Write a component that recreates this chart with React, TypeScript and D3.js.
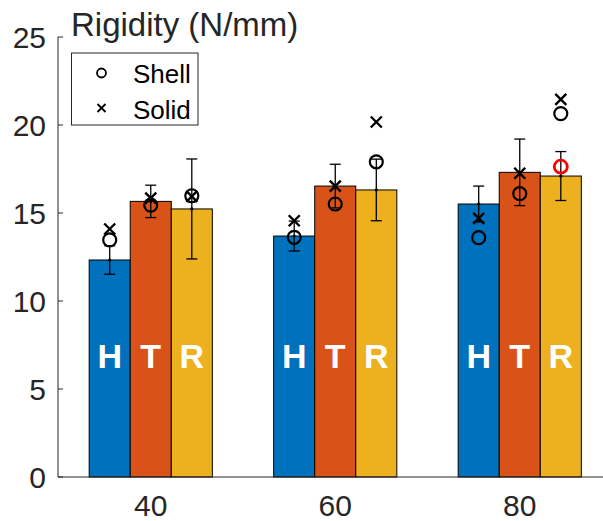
import React from 'react';
import * as d3 from 'd3';

// speeds (x categories)
const categories = [40, 60, 80];
const seriesNames = ['H', 'T', 'R'];
const seriesColors = ['#0072BD', '#D95319', '#EDB120'];

// bar means per series
const meanH = [12.33, 13.69, 15.51];
const meanT = [15.66, 16.53, 17.31];
const meanR = [15.23, 16.31, 17.1];

// error half-widths
const errH = [0.81, 0.85, 1.02];
const errT = [0.92, 1.24, 1.89];
const errR = [2.84, 1.75, 1.39];

// model predictions
const shellH = [13.47, 13.62, 13.6];
const shellT = [15.45, 15.51, 16.1];
const shellR = [15.98, 17.91, 20.65];
const solidH = [14.09, 14.56, 14.7];
const solidT = [15.84, 16.53, 17.26];
const solidR = [15.95, 20.17, 21.46];

// highlighted shell point (R at 80)
const highlightCat = [80];
const highlightVal = [17.63];

const yTicks = [0, 5, 10, 15, 20, 25];

const W = 603;
const H = 521;
const font = '"Liberation Sans", Arial, Helvetica, sans-serif';
const axisColor = '#262626';

const App = () => {
  const x = d3.scaleLinear().domain([30, 90]).range([58.5, 612]);
  const y = d3.scaleLinear().domain([0, 25]).range([477, 37]);
  const barW = 4.45; // in x units

  const means = [meanH, meanT, meanR];
  const errs = [errH, errT, errR];
  const shells = [shellH, shellT, shellR];
  const solids = [solidH, solidT, solidR];
  const off = (s: number) => (s - 1) * barW;

  const xr = 5.5;
  const capW = 5.5;

  return (
    <svg width={W} height={H} style={{ display: 'block', position: 'absolute', left: 0, top: 0 }}>
      <rect width={W} height={H} fill="#fff" />

      {/* bars */}
      {means.map((ser, s) =>
        ser.map((v, i) => (
          <rect
            key={`b${s}${i}`}
            x={x(categories[i] + off(s) - barW / 2)}
            y={y(v)}
            width={x(barW) - x(0)}
            height={y(0) - y(v)}
            fill={seriesColors[s]}
            stroke="#000"
            strokeWidth={1}
          />
        ))
      )}

      {/* bar letters */}
      {means.map((ser, s) =>
        ser.map((v, i) => (
          <text
            key={`l${s}${i}`}
            x={x(categories[i] + off(s))}
            y={368}
            textAnchor="middle"
            fill="#fff"
            fontWeight="bold"
            fontSize={34}
            fontFamily={'"Liberation Sans Narrow", "Liberation Sans", Arial, sans-serif'}
          >
            {seriesNames[s]}
          </text>
        ))
      )}

      {/* axes */}
      <line x1={58} x2={58} y1={y(25)} y2={y(0)} stroke={axisColor} strokeWidth={1} />
      <line x1={58} x2={W} y1={y(0)} y2={y(0)} stroke={axisColor} strokeWidth={1} />
      {yTicks.map(t => (
        <g key={`yt${t}`}>
          <line x1={58} x2={63} y1={y(t)} y2={y(t)} stroke={axisColor} />
          <text x={46} y={y(t) + 11} textAnchor="end" fontSize={30} fontFamily={font} fill={axisColor}>
            {t}
          </text>
        </g>
      ))}
      {categories.map(c => (
        <text key={`xt${c}`} x={x(c)} y={516} textAnchor="middle" fontSize={30} fontFamily={font} fill={axisColor}>
          {c}
        </text>
      ))}

      {/* error bars */}
      {means.map((ser, s) =>
        ser.map((v, i) => {
          const cx = x(categories[i] + off(s));
          const lo = y(v - errs[s][i]);
          const hi = y(v + errs[s][i]);
          return (
            <g key={`e${s}${i}`} stroke="#000" strokeWidth={1.3}>
              <line x1={cx} x2={cx} y1={lo} y2={hi} />
              <line x1={cx - capW} x2={cx + capW} y1={lo} y2={lo} />
              <line x1={cx - capW} x2={cx + capW} y1={hi} y2={hi} />
              <circle cx={cx} cy={y(v)} r={1.6} fill="#000" stroke="none" />
            </g>
          );
        })
      )}

      {/* shell circles */}
      {shells.map((ser, s) =>
        ser.map((v, i) => (
          <circle
            key={`sh${s}${i}`}
            cx={x(categories[i] + off(s))}
            cy={y(v)}
            r={6.5}
            fill="none"
            stroke="#000"
            strokeWidth={2.2}
          />
        ))
      )}
      {highlightCat.map((c, i) => (
        <circle
          key={`hl${i}`}
          cx={x(c + off(2))}
          cy={y(highlightVal[i])}
          r={6.5}
          fill="none"
          stroke="#FF0000"
          strokeWidth={2.8}
        />
      ))}

      {/* solid crosses */}
      {solids.map((ser, s) =>
        ser.map((v, i) => {
          const cx = x(categories[i] + off(s));
          const cy = y(v);
          return (
            <g key={`so${s}${i}`} stroke="#000" strokeWidth={2.4}>
              <line x1={cx - xr} x2={cx + xr} y1={cy - xr} y2={cy + xr} />
              <line x1={cx - xr} x2={cx + xr} y1={cy + xr} y2={cy - xr} />
            </g>
          );
        })
      )}

      {/* title */}
      <text x={71} y={36} fontSize={33} fontFamily={font} fill={axisColor}>
        Rigidity (N/mm)
      </text>

      {/* legend */}
      <rect x={71.5} y={53} width={126.5} height={72} fill="#fff" stroke={axisColor} strokeWidth={1} />
      <circle cx={101.5} cy={73} r={4.5} fill="none" stroke="#000" strokeWidth={1.8} />
      <g stroke="#000" strokeWidth={1.8}>
        <line x1={97.5} x2={105.5} y1={104} y2={112} />
        <line x1={97.5} x2={105.5} y1={112} y2={104} />
      </g>
      <text x={133} y={83} fontSize={26} fontFamily={font} fill="#000">
        Shell
      </text>
      <text x={133} y={119} fontSize={26} fontFamily={font} fill="#000">
        Solid
      </text>
    </svg>
  );
};

export default App;
